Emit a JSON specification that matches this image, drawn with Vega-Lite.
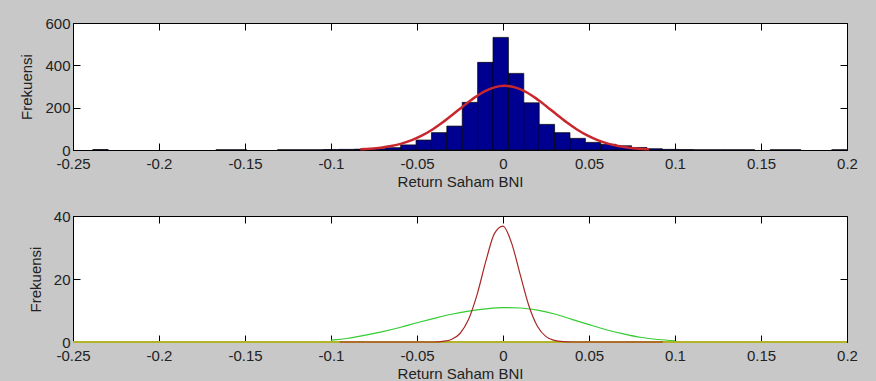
{
  "$schema": "https://vega.github.io/schema/vega-lite/v6.json",
  "background": "#c8c8c8",
  "autosize": {"type": "none"},
  "padding": {"left": 73, "top": 23, "right": 803, "bottom": 358},
  "config": {
    "view": {"fill": "#ffffff", "stroke": "#000000", "strokeWidth": 1},
    "axis": {
      "grid": false, "domain": false, "tickColor": "#000000", "tickSize": -7, "tickWidth": 1,
      "labelFont": "Liberation Sans, Arial, sans-serif",
      "labelFontSize": 15, "labelColor": "#222222", "labelFlush": false, "labelOverlap": false,
      "titleFont": "Liberation Sans, Arial, sans-serif",
      "titleFontSize": 15, "titleFontWeight": "normal", "titleColor": "#222222"
    },
    "axisBottom": {"labelPadding": 13, "titlePadding": 3},
    "axisLeft": {"labelPadding": 10, "titlePadding": 10}
  },
  "datasets": {
    "hist": [
      {"x0": -0.2385, "x1": -0.22955, "count": 2},
      {"x0": -0.1669, "x1": -0.15795, "count": 1},
      {"x0": -0.15795, "x1": -0.149, "count": 1},
      {"x0": -0.1311, "x1": -0.12215, "count": 1},
      {"x0": -0.12215, "x1": -0.1132, "count": 1},
      {"x0": -0.1132, "x1": -0.10425, "count": 1},
      {"x0": -0.10425, "x1": -0.0953, "count": 2},
      {"x0": -0.0953, "x1": -0.08635, "count": 3},
      {"x0": -0.08635, "x1": -0.0774, "count": 4},
      {"x0": -0.0774, "x1": -0.06845, "count": 6},
      {"x0": -0.06845, "x1": -0.0595, "count": 11},
      {"x0": -0.0595, "x1": -0.05055, "count": 24},
      {"x0": -0.05055, "x1": -0.0416, "count": 47},
      {"x0": -0.0416, "x1": -0.03265, "count": 82},
      {"x0": -0.03265, "x1": -0.0237, "count": 113},
      {"x0": -0.0237, "x1": -0.01475, "count": 225},
      {"x0": -0.01475, "x1": -0.0058, "count": 414},
      {"x0": -0.0058, "x1": 0.00315, "count": 532},
      {"x0": 0.00315, "x1": 0.0121, "count": 362},
      {"x0": 0.0121, "x1": 0.02105, "count": 223},
      {"x0": 0.02105, "x1": 0.03, "count": 121},
      {"x0": 0.03, "x1": 0.03895, "count": 82},
      {"x0": 0.03895, "x1": 0.0479, "count": 55},
      {"x0": 0.0479, "x1": 0.05685, "count": 36},
      {"x0": 0.05685, "x1": 0.0658, "count": 27},
      {"x0": 0.0658, "x1": 0.07475, "count": 20},
      {"x0": 0.07475, "x1": 0.0837, "count": 12},
      {"x0": 0.0837, "x1": 0.09265, "count": 6},
      {"x0": 0.09265, "x1": 0.1016, "count": 3},
      {"x0": 0.1016, "x1": 0.11055, "count": 2},
      {"x0": 0.11055, "x1": 0.1195, "count": 1},
      {"x0": 0.1195, "x1": 0.12845, "count": 1},
      {"x0": 0.12845, "x1": 0.1374, "count": 1},
      {"x0": 0.1374, "x1": 0.14635, "count": 1},
      {"x0": 0.1553, "x1": 0.16425, "count": 1},
      {"x0": 0.16425, "x1": 0.1732, "count": 1},
      {"x0": 0.1911, "x1": 0.2, "count": 1}
    ],
    "fit": [
      {"x": -0.083, "y": 3.3}, {"x": -0.077, "y": 6.2}, {"x": -0.071, "y": 11},
      {"x": -0.065, "y": 18.7}, {"x": -0.059, "y": 30.2}, {"x": -0.053, "y": 46.7},
      {"x": -0.047, "y": 69}, {"x": -0.041, "y": 97}, {"x": -0.035, "y": 131},
      {"x": -0.029, "y": 169}, {"x": -0.023, "y": 208}, {"x": -0.017, "y": 245},
      {"x": -0.011, "y": 276}, {"x": -0.005, "y": 296}, {"x": 0.001, "y": 303},
      {"x": 0.007, "y": 296}, {"x": 0.013, "y": 276}, {"x": 0.019, "y": 245},
      {"x": 0.025, "y": 208}, {"x": 0.031, "y": 169}, {"x": 0.037, "y": 131},
      {"x": 0.043, "y": 97}, {"x": 0.049, "y": 69}, {"x": 0.055, "y": 46.7},
      {"x": 0.061, "y": 30.2}, {"x": 0.067, "y": 18.7}, {"x": 0.073, "y": 11},
      {"x": 0.079, "y": 6.2}, {"x": 0.085, "y": 3.3}
    ],
    "bawah": [
      {"x": -0.25, "y": 0, "s": "kuning"}, {"x": 0.2, "y": 0, "s": "kuning"},
      {"x": -0.1, "y": 0.6, "s": "hijau"}, {"x": -0.09, "y": 1.2, "s": "hijau"},
      {"x": -0.08, "y": 2.2, "s": "hijau"}, {"x": -0.07, "y": 3.3, "s": "hijau"},
      {"x": -0.06, "y": 4.6, "s": "hijau"}, {"x": -0.05, "y": 6.1, "s": "hijau"},
      {"x": -0.04, "y": 7.5, "s": "hijau"}, {"x": -0.03, "y": 8.8, "s": "hijau"},
      {"x": -0.02, "y": 9.8, "s": "hijau"}, {"x": -0.01, "y": 10.5, "s": "hijau"},
      {"x": 0.0, "y": 10.9, "s": "hijau"}, {"x": 0.01, "y": 10.8, "s": "hijau"},
      {"x": 0.02, "y": 10.1, "s": "hijau"}, {"x": 0.03, "y": 8.9, "s": "hijau"},
      {"x": 0.04, "y": 7.2, "s": "hijau"}, {"x": 0.05, "y": 5.5, "s": "hijau"},
      {"x": 0.06, "y": 3.9, "s": "hijau"}, {"x": 0.07, "y": 2.6, "s": "hijau"},
      {"x": 0.08, "y": 1.5, "s": "hijau"}, {"x": 0.09, "y": 0.8, "s": "hijau"},
      {"x": 0.1, "y": 0.4, "s": "hijau"},
      {"x": -0.095, "y": 0, "s": "merah"}, {"x": -0.04, "y": 0, "s": "merah"},
      {"x": -0.035, "y": 0.2, "s": "merah"}, {"x": -0.03, "y": 0.8, "s": "merah"},
      {"x": -0.025, "y": 2.7, "s": "merah"}, {"x": -0.02, "y": 7.2, "s": "merah"},
      {"x": -0.015, "y": 15.2, "s": "merah"}, {"x": -0.01, "y": 25.6, "s": "merah"},
      {"x": -0.005, "y": 34.4, "s": "merah"}, {"x": 0.0, "y": 36.8, "s": "merah"},
      {"x": 0.005, "y": 31.4, "s": "merah"}, {"x": 0.01, "y": 21.4, "s": "merah"},
      {"x": 0.015, "y": 11.6, "s": "merah"}, {"x": 0.02, "y": 5.0, "s": "merah"},
      {"x": 0.025, "y": 1.7, "s": "merah"}, {"x": 0.03, "y": 0.5, "s": "merah"},
      {"x": 0.035, "y": 0.1, "s": "merah"}, {"x": 0.04, "y": 0, "s": "merah"},
      {"x": 0.093, "y": 0, "s": "merah"}
    ]
  },
  "bounds": "flush",
  "spacing": 66,
  "vconcat": [
    {
      "width": 774, "height": 127,
      "layer": [
        {
          "data": {"name": "hist"},
          "mark": {"type": "rect", "fill": "#000090", "stroke": "#000000", "strokeWidth": 0.7},
          "encoding": {
            "x": {"field": "x0", "type": "quantitative",
              "scale": {"domain": [-0.25, 0.2], "nice": false, "zero": false},
              "axis": {"orient": "bottom", "values": [-0.25, -0.2, -0.15, -0.1, -0.05, 0, 0.05, 0.1, 0.15, 0.2],
                "title": "Return Saham BNI", "labelExpr": "replace(format(datum.value, '~f'), '−', '-')"}},
            "x2": {"field": "x1"},
            "y": {"field": "count", "type": "quantitative",
              "scale": {"domain": [0, 600], "nice": false},
              "axis": {"orient": "left", "values": [0, 200, 400, 600], "title": "Frekuensi"}},
            "y2": {"datum": 0}
          }
        },
        {
          "data": {"name": "fit"},
          "mark": {"type": "line", "color": "#c8282d", "strokeWidth": 2.5, "interpolate": "monotone"},
          "encoding": {
            "x": {"field": "x", "type": "quantitative",
              "axis": {"orient": "top", "values": [-0.25, -0.2, -0.15, -0.1, -0.05, 0, 0.05, 0.1, 0.15, 0.2], "labels": false, "title": null}},
            "y": {"field": "y", "type": "quantitative",
              "axis": {"orient": "right", "values": [0, 200, 400, 600], "labels": false, "title": null}}
          }
        }
      ],
      "resolve": {"axis": {"x": "independent", "y": "independent"}}
    },
    {
      "width": 774, "height": 126,
      "layer": [
        {
          "data": {"name": "bawah"},
          "transform": [{"filter": "datum.s === 'kuning'"}],
          "mark": {"type": "line", "color": "#b4b428", "strokeWidth": 2},
          "encoding": {
            "x": {"field": "x", "type": "quantitative",
              "scale": {"domain": [-0.25, 0.2], "nice": false, "zero": false},
              "axis": {"orient": "bottom", "values": [-0.25, -0.2, -0.15, -0.1, -0.05, 0, 0.05, 0.1, 0.15, 0.2],
                "title": "Return Saham BNI", "labelExpr": "replace(format(datum.value, '~f'), '−', '-')"}},
            "y": {"field": "y", "type": "quantitative",
              "scale": {"domain": [0, 40], "nice": false},
              "axis": {"orient": "left", "values": [0, 20, 40], "title": "Frekuensi"}}
          }
        },
        {
          "data": {"name": "bawah"},
          "transform": [{"filter": "datum.s === 'hijau'"}],
          "mark": {"type": "line", "color": "#33cc33", "strokeWidth": 1.2, "interpolate": "monotone"},
          "encoding": {
            "x": {"field": "x", "type": "quantitative",
              "axis": {"orient": "top", "values": [-0.25, -0.2, -0.15, -0.1, -0.05, 0, 0.05, 0.1, 0.15, 0.2], "labels": false, "title": null}},
            "y": {"field": "y", "type": "quantitative",
              "axis": {"orient": "right", "values": [0, 20, 40], "labels": false, "title": null}}
          }
        },
        {
          "data": {"name": "bawah"},
          "transform": [{"filter": "datum.s === 'merah'"}],
          "mark": {"type": "line", "color": "#a82828", "strokeWidth": 1.2, "interpolate": "monotone"},
          "encoding": {
            "x": {"field": "x", "type": "quantitative", "axis": null},
            "y": {"field": "y", "type": "quantitative", "axis": null}
          }
        }
      ],
      "resolve": {"axis": {"x": "independent", "y": "independent"}}
    }
  ]
}
